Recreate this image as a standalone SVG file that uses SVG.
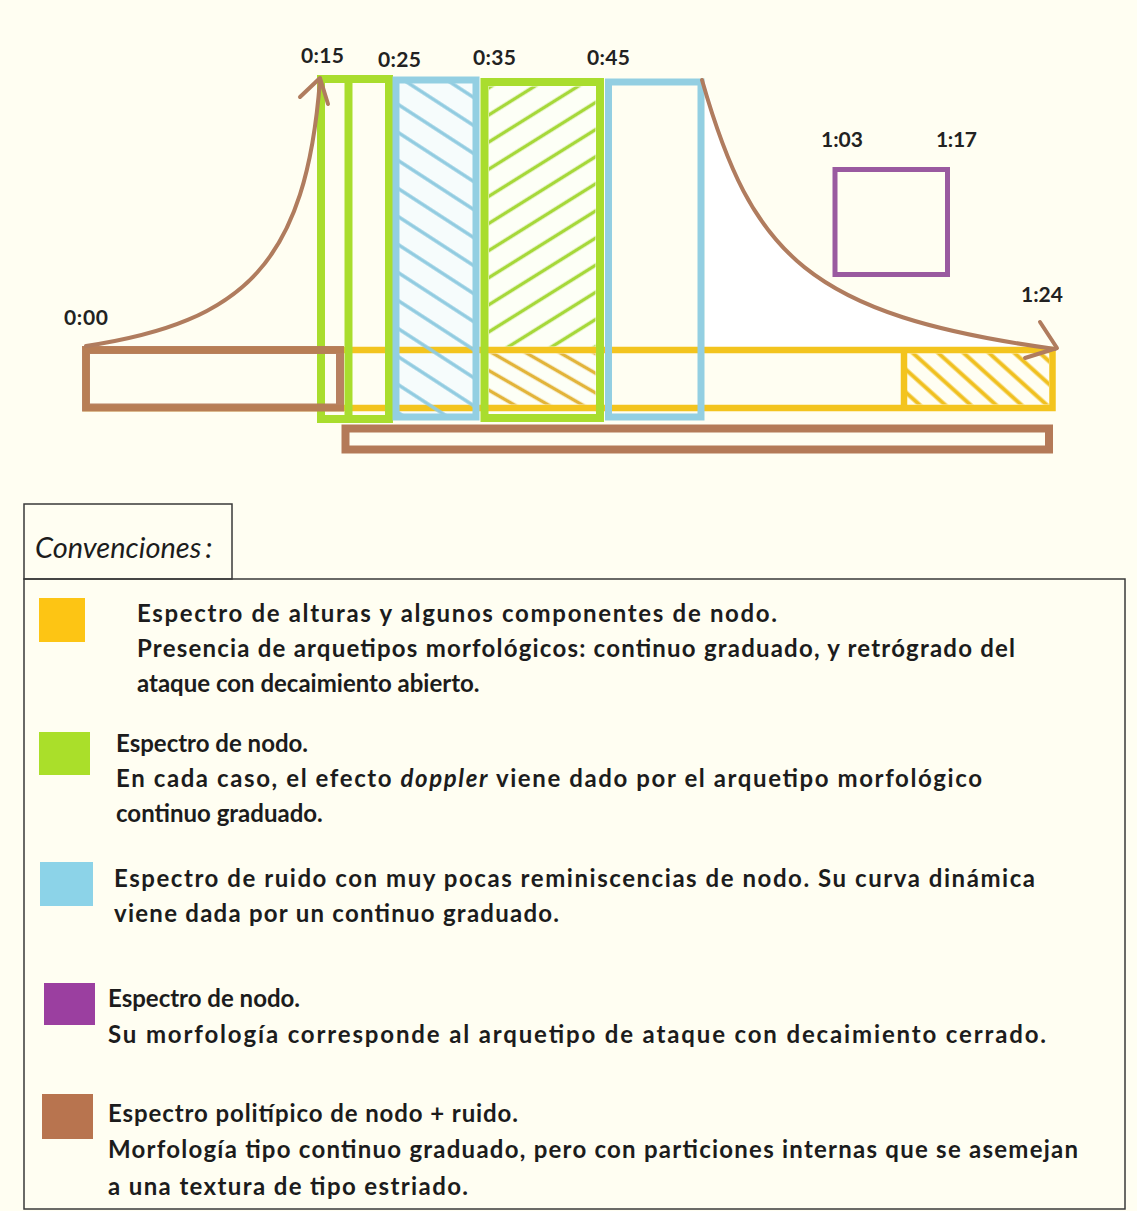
<svg xmlns="http://www.w3.org/2000/svg" width="1137" height="1211" viewBox="0 0 1137 1211">
<defs>
<style>
.lbl{font-family:Lato,"Liberation Sans",sans-serif;font-weight:bold;font-size:21px;fill:#222}
.txt{font-family:Lato,"Liberation Sans",sans-serif;font-weight:bold;font-size:24px;fill:#1c1c1c}
.conv{font-family:Lato,"Liberation Sans",sans-serif;font-style:italic;font-size:29px;fill:#1c1c1c}
.yel{fill:none;stroke:#f3c41e;stroke-width:6.5}
.grn{fill:none;stroke:#a9dd2e;stroke-width:8}
.blu{fill:none;stroke:#93cfe2;stroke-width:7}
.brn{fill:none;stroke:#b47a58;stroke-width:8}
.crv{fill:none;stroke:#b07c5e;stroke-width:4;stroke-linecap:round;stroke-linejoin:round}
</style>
<pattern id="hBlue" patternUnits="userSpaceOnUse" width="60" height="23.5" patternTransform="rotate(33)">
<line x1="0" y1="11.75" x2="60" y2="11.75" stroke="#90cbe0" stroke-width="3.5"/>
</pattern>
<pattern id="hGreen" patternUnits="userSpaceOnUse" width="60" height="23" patternTransform="rotate(-32)">
<line x1="0" y1="11.5" x2="60" y2="11.5" stroke="#a6d83a" stroke-width="3.5"/>
</pattern>
<pattern id="hYel" patternUnits="userSpaceOnUse" width="60" height="17" patternTransform="rotate(42)">
<line x1="0" y1="8.5" x2="60" y2="8.5" stroke="#f0c020" stroke-width="4"/>
</pattern>
<pattern id="hYel2" patternUnits="userSpaceOnUse" width="60" height="17" patternTransform="rotate(30)">
<line x1="0" y1="8.5" x2="60" y2="8.5" stroke="#e2b43a" stroke-width="3.5"/>
</pattern>
</defs>
<rect x="0" y="0" width="1137" height="1211" fill="#fffef2"/>

<g id="decay-area">
<path d="M705,80 C754,255 810,315 1052,347 L705,347 Z" fill="#ffffff"/>
</g>

<g id="yellow-spectrum">
<rect x="86" y="350" width="966.5" height="58" class="yel"/>
<rect x="907" y="353.5" width="142" height="51" fill="url(#hYel)"/>
<line x1="904" y1="350" x2="904" y2="408" class="yel" stroke-width="7"/>
</g>

<g id="green-node-1">
<rect x="321" y="79" width="68" height="340" class="grn"/>
<line x1="348.5" y1="79" x2="348.5" y2="419" class="grn" stroke-width="7"/>
</g>

<g id="blue-noise-1">
<rect x="399" y="83" width="74" height="331" fill="#f6fcfc"/>
<line x1="399" y1="350" x2="473" y2="350" class="yel"/>
<line x1="399" y1="408" x2="473" y2="408" class="yel"/>
<rect x="399" y="83" width="74" height="331" fill="url(#hBlue)"/>
<rect x="396" y="80" width="80" height="337" class="blu"/>
</g>

<g id="green-node-2">
<rect x="489" y="86.5" width="106.5" height="327" fill="#fdfff6"/>
<rect x="489" y="86.5" width="106.5" height="260" fill="url(#hGreen)"/>
<line x1="489" y1="350" x2="596" y2="350" class="yel"/>
<line x1="489" y1="408" x2="596" y2="408" class="yel"/>
<rect x="489" y="353.5" width="106.5" height="51" fill="url(#hYel2)"/>
<rect x="484.5" y="82" width="115.5" height="336" class="grn" stroke-width="9"/>
</g>

<g id="blue-noise-2">
<rect x="608.5" y="82" width="92.5" height="335" class="blu"/>
</g>

<g id="brown-noise-1">
<rect x="86" y="350" width="254" height="57.5" class="brn" opacity="0.95"/>
</g>

<g id="brown-noise-2">
<rect x="345.5" y="428.5" width="703.5" height="21" class="brn" stroke-width="7"/>
</g>

<g id="purple-node">
<rect x="835" y="169.5" width="112.5" height="105" fill="none" stroke="#9a5aa0" stroke-width="5"/>
</g>

<g id="connectors">
<path d="M86,346 C245,322 306,262 320,80" class="crv"/>
<path d="M300,97 L320,78 L328,104" class="crv"/>
<path d="M702,80 C752,255 808,315 1055,349" class="crv"/>
<path d="M1040,322 L1057,348 L1025,358" class="crv"/>
</g>

<g id="labels">
<text class="lbl" x="301" y="63" textLength="43">0:15</text>
<text class="lbl" x="378" y="67" textLength="43">0:25</text>
<text class="lbl" x="473" y="65" textLength="43">0:35</text>
<text class="lbl" x="587" y="65" textLength="43">0:45</text>
<text class="lbl" x="821" y="147" textLength="42">1:03</text>
<text class="lbl" x="936" y="147" textLength="41">1:17</text>
<text class="lbl" x="64" y="325" textLength="44">0:00</text>
<text class="lbl" x="1021" y="302" textLength="42">1:24</text>
</g>

<g id="legend">
<rect x="24" y="504" width="208" height="75" fill="none" stroke="#3a3a3a" stroke-width="1.5"/>
<text class="conv" x="35" y="558">Convenciones<tspan dx="4">:</tspan></text>
<rect x="24" y="579" width="1101" height="630" fill="none" stroke="#3a3a3a" stroke-width="1.5"/>

<g id="legend-yellow">
<rect x="39" y="598" width="46" height="44" fill="#fdc514"/>
<text class="txt" x="137" y="622" textLength="640">Espectro de alturas y algunos componentes de nodo.</text>
<text class="txt" x="137" y="657" textLength="878">Presencia de arquetipos morfológicos: continuo graduado, y retrógrado del</text>
<text class="txt" x="137" y="692">ataque con decaimiento abierto.</text>
</g>
<g id="legend-green">
<rect x="39" y="732" width="51" height="43" fill="#aadf2a"/>
<text class="txt" x="116" y="752">Espectro de nodo.</text>
<text class="txt" x="116" y="787" textLength="866">En cada caso, el efecto <tspan font-style="italic">doppler</tspan> viene dado por el arquetipo morfológico</text>
<text class="txt" x="116" y="822">continuo graduado.</text>
</g>
<g id="legend-blue">
<rect x="40" y="862" width="53" height="44" fill="#8cd3e8"/>
<text class="txt" x="114" y="887" textLength="921">Espectro de ruido con muy pocas reminiscencias de nodo. Su curva dinámica</text>
<text class="txt" x="114" y="922" textLength="445">viene dada por un continuo graduado.</text>
</g>
<g id="legend-purple">
<rect x="44" y="983" width="51" height="42" fill="#9b3fa0"/>
<text class="txt" x="108" y="1007">Espectro de nodo.</text>
<text class="txt" x="108" y="1043" textLength="938">Su morfología corresponde al arquetipo de ataque con decaimiento cerrado.</text>
</g>
<g id="legend-brown">
<rect x="42" y="1094" width="51" height="45" fill="#b8744f"/>
<text class="txt" x="108" y="1122" textLength="410">Espectro politípico de nodo + ruido.</text>
<text class="txt" x="108" y="1158" textLength="970">Morfología tipo continuo graduado, pero con particiones internas que se asemejan</text>
<text class="txt" x="108" y="1195" textLength="360">a una textura de tipo estriado.</text>
</g>
</g>
</svg>
